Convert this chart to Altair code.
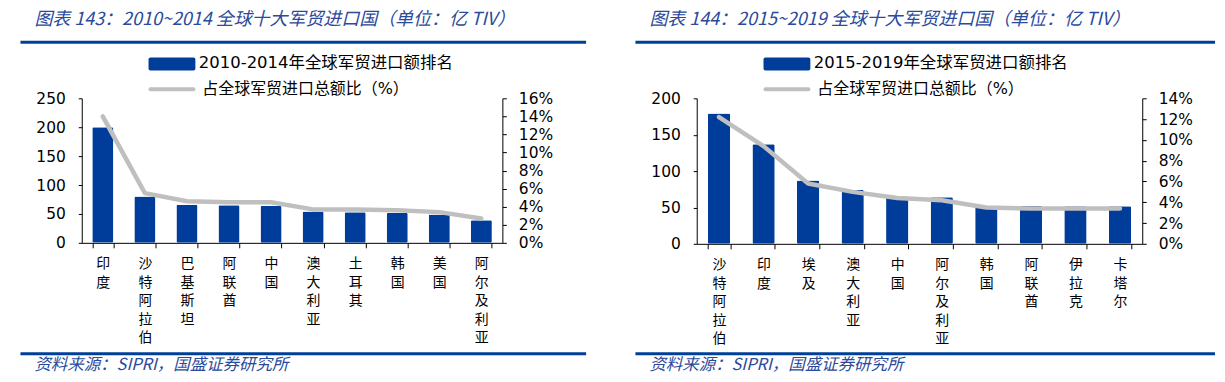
import altair as alt
import pandas as pd

# ---------------- data ----------------
cats_a = ["印度", "沙特阿拉伯", "巴基斯坦", "阿联酋", "中国", "澳大利亚", "土耳其", "韩国", "美国", "阿尔及利亚"]
vals_a = [200, 80, 66, 65, 63.5, 54, 53, 51.5, 49, 39]
share_a = [0.140, 0.055, 0.046, 0.045, 0.045, 0.037, 0.037, 0.036, 0.034, 0.027]

cats_b = ["沙特阿拉伯", "印度", "埃及", "澳大利亚", "中国", "阿尔及利亚", "韩国", "阿联酋", "伊拉克", "卡塔尔"]
vals_b = [179, 137, 87, 74, 65, 64, 52.5, 52, 51.5, 51.5]
share_b = [0.122, 0.094, 0.058, 0.050, 0.044, 0.042, 0.035, 0.034, 0.034, 0.034]

title_a = "图表 143：2010~2014 全球十大军贸进口国（单位：亿 TIV）"
title_b = "图表 144：2015~2019 全球十大军贸进口国（单位：亿 TIV）"
legend_bar_a = "2010-2014年全球军贸进口额排名"
legend_bar_b = "2015-2019年全球军贸进口额排名"
legend_line = "占全球军贸进口总额比（%）"
source = "资料来源：SIPRI，国盛证券研究所"

# ---------------- style ----------------
BLUE = "#003D9A"
GREY = "#BFBFBF"
RULE = "#003F98"
TITLE_BLUE = "#2A4A9C"
AX_FONT = "DejaVu Sans"
CJK = "Noto Sans CJK SC"
MIX = "DejaVu Sans, Noto Sans CJK SC"


def panel(cats, vals, shares, ymax, ystep, pmax, w, h, title, legend1, rule_end):
    df = pd.DataFrame({"国家": cats, "金额": vals, "占比": shares})
    base = alt.Chart(df)
    xenc = alt.X(
        "国家:N", sort=cats,
        scale=alt.Scale(paddingInner=0.5, paddingOuter=0.25),
        axis=alt.Axis(title=None, labelAngle=0, labelExpr="split(datum.label, '')",
                      labelFont=CJK, labelFontSize=14, labelLineHeight=18.5,
                      labelBaseline="top", labelAlign="center", labelColor="#000",
                      tickBand="extent", tickSize=5, tickColor="#000",
                      domainColor="#000", labelPadding=9),
    )
    bars = base.mark_bar(color=BLUE, cornerRadius=1.5).encode(
        x=xenc,
        y=alt.Y("金额:Q", scale=alt.Scale(domain=[0, ymax], nice=False),
                axis=alt.Axis(title=None, values=list(range(0, ymax + 1, ystep)), grid=False,
                              labelFont=AX_FONT, labelFontSize=15.5, labelColor="#000",
                              tickSize=3.5, tickColor="#000", domainColor="#000",
                              labelPadding=13)),
    )
    pvals = [i / 100 for i in range(0, int(round(pmax * 100)) + 1, 2)]
    line = base.mark_line(color=GREY, strokeWidth=4.5, strokeCap="round", strokeJoin="round").encode(
        x=xenc,
        y=alt.Y("占比:Q", scale=alt.Scale(domain=[0, pmax], nice=False),
                axis=alt.Axis(title=None, orient="right", format=".0%", values=pvals, grid=False,
                              labelFont=AX_FONT, labelFontSize=15.5, labelColor="#000",
                              tickSize=4, tickColor="#000", domainColor="#000",
                              labelPadding=12)),
    )

    one = alt.Chart(pd.DataFrame({"k": [0]}))

    def txt(s, x, y, size, font, color, italic=False):
        return one.mark_text(text=s, align="left", baseline="middle", fontSize=size, font=font,
                             color=color, fontStyle="italic" if italic else "normal").encode(
            x=alt.value(x), y=alt.value(y))

    deco = [
        txt(title, -47.5, -79, 18, CJK, TITLE_BLUE, True),
        one.mark_rule(color=RULE, strokeWidth=3).encode(x=alt.value(-61.5), x2=alt.value(rule_end), y=alt.value(-56.3)),
        one.mark_rule(color=RULE, strokeWidth=3).encode(x=alt.value(-61.5), x2=alt.value(rule_end), y=alt.value(256.3)),
        one.mark_rect(color=BLUE, cornerRadius=2).encode(x=alt.value(67), x2=alt.value(114), y=alt.value(-41), y2=alt.value(-28)),
        txt(legend1, 117.5, -35.3, 16.5, MIX, "#000"),
        one.mark_rule(color=GREY, strokeWidth=4, strokeCap="round").encode(x=alt.value(69), x2=alt.value(112), y=alt.value(-9)),
        txt(legend_line, 121, -9.7, 16, MIX, "#000"),
        txt(source, -47.5, 268, 16.5, CJK, TITLE_BLUE, True),
    ]
    return alt.layer(bars, line, *deco).resolve_scale(y="independent").properties(width=w, height=h)


left = panel(cats_a, vals_a, share_a, 250, 50, 0.16, 422, 145, title_a, legend_bar_a, 506)
right = panel(cats_b, vals_b, share_b, 200, 50, 0.14, 447, 146, title_b, legend_bar_b, 520)

chart = alt.hconcat(left, right, spacing=46).properties(
    padding={"left": 11, "top": 2, "right": 0, "bottom": 0}
).configure_view(stroke=None)

chart.save("out.html", embed_options={"renderer": "svg", "actions": False})
